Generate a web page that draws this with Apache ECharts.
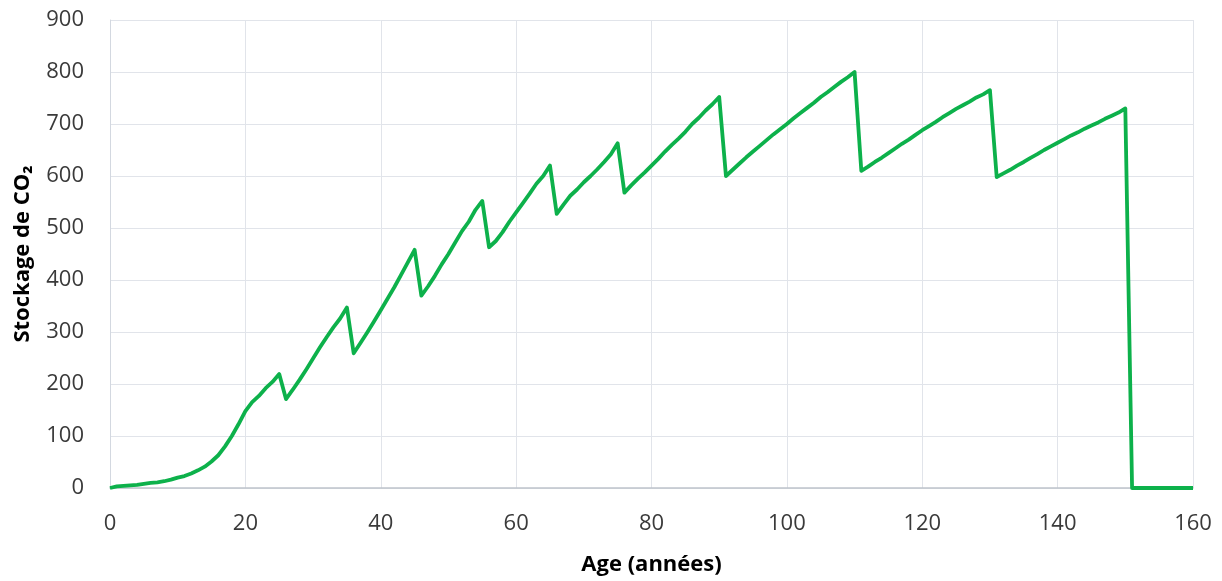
<!DOCTYPE html>
<html>
<head>
<meta charset="utf-8">
<script src="https://cdn.jsdelivr.net/npm/echarts@6/dist/echarts.min.js"></script>
<style>html,body{margin:0;padding:0;background:#fff}#c{width:1222px;height:581px}</style>
</head>
<body>
<div id="c"></div>
<script>
const ages = [];
for (let a = 0; a <= 160; a++) ages.push(a);
const storage = [
  0, 3, 4, 5, 6, 8, 10, 11, 13, 16,
  20, 23, 28, 34, 41, 51, 63, 80, 100, 123,
  148, 165, 177, 192, 204, 219, 171, 189, 208, 228,
  249, 270, 290, 309, 326, 347, 259, 279, 299, 320,
  342, 364, 386, 410, 434, 458, 370, 388, 408, 430,
  450, 472, 494, 512, 535, 552, 463, 475, 492, 512,
  530, 548, 566, 585, 600, 620, 527, 545, 562, 574,
  588, 600, 613, 627, 642, 663, 568, 582, 595, 607,
  620, 633, 647, 660, 672, 685, 700, 712, 726, 738,
  752, 600, 612, 624, 636, 647, 658, 669, 680, 690,
  700, 711, 721, 731, 741, 752, 761, 771, 781, 790,
  800, 610, 618, 627, 635, 644, 653, 662, 670, 679,
  688, 696, 704, 713, 721, 729, 736, 743, 751, 757,
  765, 598, 605, 612, 620, 627, 635, 642, 650, 657,
  664, 671, 678, 684, 691, 697, 703, 710, 716, 722,
  730, 0, 0, 0, 0, 0, 0, 0, 0, 0,
  0
];
const xTicks = [0, 20, 40, 60, 80, 100, 120, 140, 160];
const yTicks = [0, 100, 200, 300, 400, 500, 600, 700, 800, 900];
const xTitle = 'Age (années)';
const yTitle = 'Stockage de CO₂';

const chart = echarts.init(document.getElementById('c'), null, {renderer: 'canvas'});
const font = 'Open Sans';
chart.setOption({
  animation: false,
  backgroundColor: '#ffffff',
  grid: {left: 110, right: 29, top: 20, bottom: 92, containLabel: false},
  xAxis: {
    type: 'value', min: xTicks[0], max: xTicks[xTicks.length - 1], interval: 20,
    name: xTitle, nameLocation: 'middle', nameGap: 66,
    nameTextStyle: {fontFamily: font, fontSize: 22, fontWeight: 'bold', color: '#000'},
    axisLine: {show: true, lineStyle: {color: '#bfc4cc', width: 1.5}},
    axisTick: {show: false},
    axisLabel: {fontFamily: font, fontSize: 22, color: '#3a3a3a', margin: 25},
    splitLine: {show: true, lineStyle: {color: '#e1e4ea', width: 1}}
  },
  yAxis: {
    type: 'value', min: yTicks[0], max: yTicks[yTicks.length - 1], interval: 100,
    name: yTitle, nameLocation: 'middle', nameGap: 76, nameRotate: 90,
    nameTextStyle: {fontFamily: font, fontSize: 22, fontWeight: 'bold', color: '#000'},
    axisLine: {show: true, lineStyle: {color: '#d3d8e0', width: 1}},
    axisTick: {show: false},
    axisLabel: {fontFamily: font, fontSize: 22, color: '#3a3a3a', margin: 26},
    splitLine: {show: true, lineStyle: {color: '#e1e4ea', width: 1}}
  },
  series: [{
    type: 'line',
    data: ages.map((a, i) => [a, storage[i]]),
    showSymbol: false,
    lineStyle: {color: '#0db14b', width: 3.8, join: 'round'},
    itemStyle: {color: '#0db14b'}
  }]
});
</script>
</body>
</html>
